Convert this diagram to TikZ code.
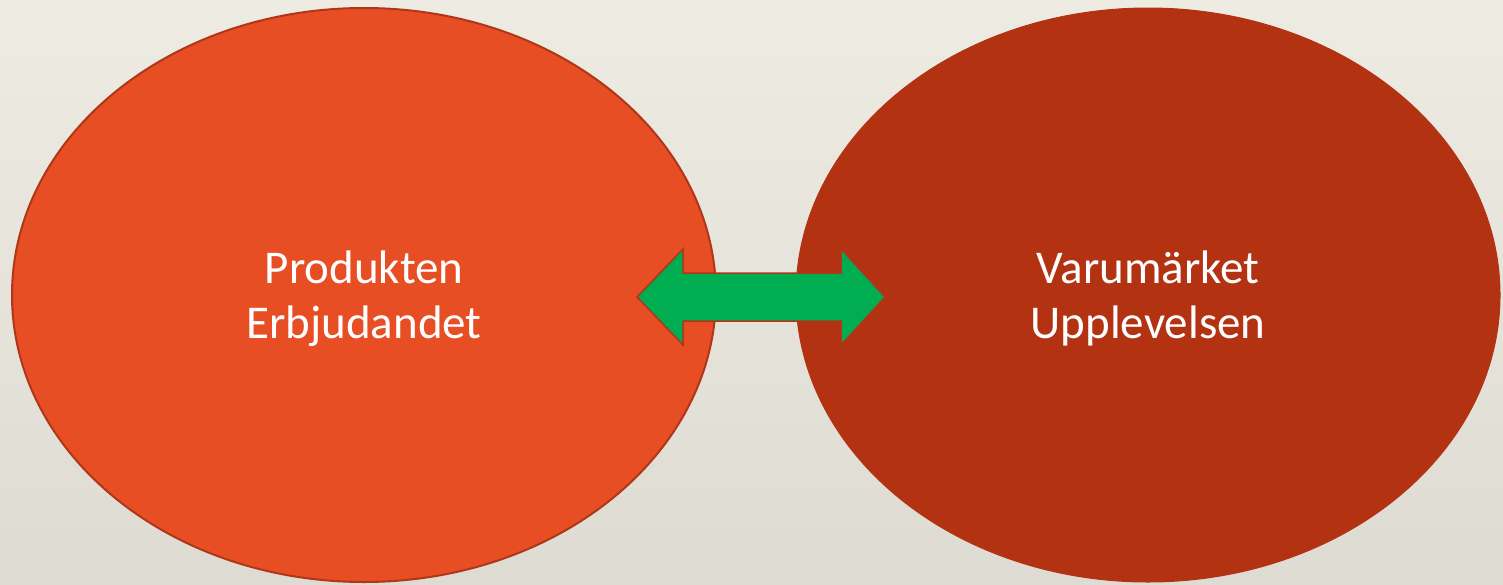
\documentclass[tikz,border=0pt]{standalone}
\usepackage{fontspec}
\setmainfont{Carlito}
\usetikzlibrary{shapes.geometric}
\definecolor{bgtop}{HTML}{EEECE2}
\definecolor{bgbot}{HTML}{DDDBD2}
\definecolor{lfill}{HTML}{E84E23}
\definecolor{ledge}{HTML}{B0361A}
\definecolor{rfill}{HTML}{B33212}
\definecolor{agreen}{HTML}{00AD50}
\tikzset{
  bubble/.style={ellipse, minimum width=704pt, minimum height=574pt, inner sep=0pt},
  lbl/.style={text=white, font=\fontsize{47}{56}\selectfont, anchor=base, inner sep=0pt},
  dblarrow/.style={fill=agreen, draw=ledge, line width=1.5pt, line join=miter}
}
\begin{document}
\begin{tikzpicture}[x=1pt,y=-1pt]
\shade[top color=bgtop, bottom color=bgbot] (0,0) rectangle (1503,584);
\useasboundingbox (0,0) rectangle (1503,584);
\node[bubble, fill=lfill, draw=ledge, line width=2pt] (left) at (364,295) {};
\node[bubble, fill=rfill, draw=rfill, line width=1pt] (right) at (1148,295) {};
\node[lbl] (l1) at (364,283) {Produkten};
\node[lbl] (l2) at (364,338) {Erbjudandet};
\node[lbl] (r1) at (1148,283) {Varumärket};
\node[lbl] (r2) at (1148,338) {Upplevelsen};
\draw[dblarrow] (637,297) -- (683,249) -- (683,273) -- (841,273) -- (841,249)
  -- (885,297) -- (841,345) -- (841,321) -- (683,321) -- (683,345) -- cycle;
\end{tikzpicture}
\end{document}
